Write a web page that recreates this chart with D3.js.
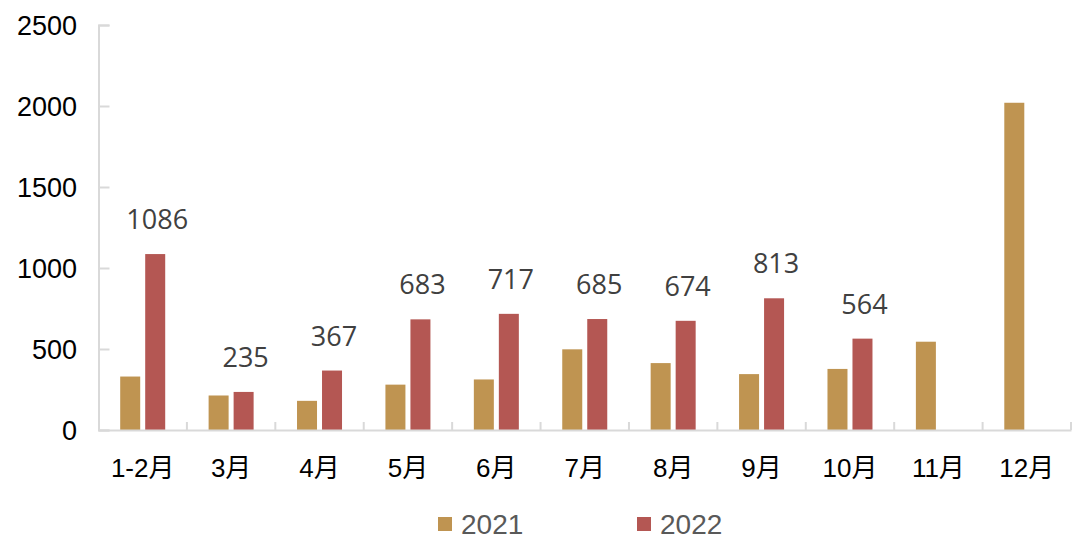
<!DOCTYPE html>
<html>
<head>
<meta charset="utf-8">
<script src="https://cdn.jsdelivr.net/npm/d3@7"></script>
<style>
html,body{margin:0;padding:0;background:#fff;}
svg{display:block;}
</style>
</head>
<body>
<svg id="chart" width="1080" height="549"></svg>
<script>
const categories = ["1-2月","3月","4月","5月","6月","7月","8月","9月","10月","11月","12月"];
const seriesNames = ["2021","2022"];
const values2021 = [330, 213, 180, 280, 312, 498, 413, 345, 377, 545, 2020];
const values2022 = [1086, 235, 367, 683, 717, 685, 674, 813, 564, null, null];
const yTicks = [0, 500, 1000, 1500, 2000, 2500];
const colors = ["#BF9451", "#B45753"];

(function () {
const svg = d3.select("#chart");
const mLeft = 98.5, mRight = 1071, mTop = 25, mBottom = 430;

const x0 = d3.scaleBand().domain(categories).range([mLeft, mRight]).paddingInner(0).paddingOuter(0);
const x1 = d3.scaleBand().domain(seriesNames).range([0, x0.bandwidth()]).paddingInner(0.2).paddingOuter(0.868);
const y = d3.scaleLinear().domain([0, 2500]).range([mBottom, mTop]);

const axisColor = "#D9D9D9";

// Y axis
const yAxis = svg.append("g").attr("transform", `translate(${mLeft},0)`)
  .call(d3.axisRight(y).tickValues(yTicks).tickSize(11).tickFormat(""));
yAxis.select(".domain").attr("stroke", axisColor).attr("stroke-width", 2);
yAxis.selectAll(".tick line").attr("stroke", axisColor).attr("stroke-width", 2);

svg.append("g").selectAll("text").data(yTicks).join("text")
  .attr("x", 77).attr("y", d => y(d)).attr("dy", "0.36em")
  .attr("text-anchor", "end")
  .attr("font-family", "'Liberation Sans', Arial, sans-serif")
  .attr("font-size", 27).attr("fill", "#000")
  .text(d => d);

// Bars
const data = categories.map((c, i) => ({cat: c, vals: [values2021[i], values2022[i]]}));
const groups = svg.append("g").selectAll("g").data(data).join("g")
  .attr("transform", d => `translate(${x0(d.cat)},0)`);
groups.selectAll("rect")
  .data(d => d.vals.map((v, j) => ({s: seriesNames[j], v, j})).filter(e => e.v != null))
  .join("rect")
  .attr("x", e => x1(e.s))
  .attr("width", x1.bandwidth())
  .attr("y", e => y(e.v))
  .attr("height", e => y(0) - y(e.v))
  .attr("fill", e => colors[e.j]);

// Data labels for 2022
groups.filter(d => d.vals[1] != null).append("text")
  .attr("x", x1("2022") + x1.bandwidth() / 2 + 2)
  .attr("y", d => y(d.vals[1]) - 25)
  .attr("text-anchor", "middle")
  .attr("font-family", "'Open Sans', sans-serif")
  .attr("font-size", 27).attr("fill", "#404040")
  .text(d => d.vals[1]);

// X axis
const xAxis = svg.append("g").attr("transform", `translate(0,${mBottom})`)
  .call(d3.axisTop(x0).tickSize(0).tickFormat(""));
xAxis.select(".domain").attr("stroke", axisColor).attr("stroke-width", 2);
xAxis.selectAll(".tick").remove();
const boundaries = categories.map(c => x0(c)).concat([mRight]);
svg.append("g").selectAll("line").data(boundaries.slice(1)).join("line")
  .attr("x1", d => d).attr("x2", d => d)
  .attr("y1", mBottom).attr("y2", mBottom - 8)
  .attr("stroke", axisColor).attr("stroke-width", 2);

svg.append("g").selectAll("text").data(categories).join("text")
  .attr("x", d => x0(d) + x0.bandwidth() / 2)
  .attr("y", 477)
  .attr("text-anchor", "middle")
  .attr("font-family", "'Liberation Sans', Arial, 'Noto Sans CJK SC', sans-serif")
  .attr("font-size", 26).attr("fill", "#000")
  .text(d => d);

// Legend
const legendItems = [{name: "2021", x: 438}, {name: "2022", x: 637}];
const lg = svg.append("g").selectAll("g").data(legendItems).join("g")
  .attr("transform", d => `translate(${d.x},0)`);
lg.append("rect").attr("x", 0).attr("y", 517).attr("width", 14).attr("height", 14)
  .attr("fill", (d, i) => colors[i]);
lg.append("text").attr("x", 23).attr("y", 534)
  .attr("font-family", "'Liberation Sans', Arial, sans-serif")
  .attr("font-size", 28).attr("fill", "#595959")
  .text(d => d.name);
})();
</script>
</body>
</html>
